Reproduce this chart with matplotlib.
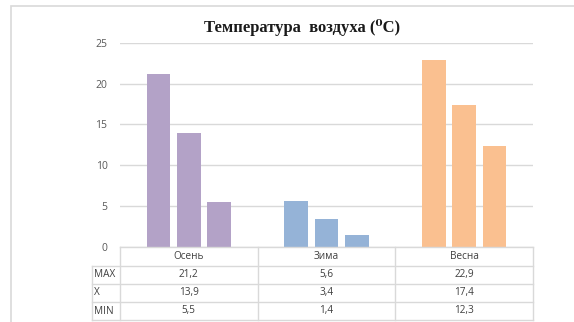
import matplotlib
matplotlib.use("Agg")
import matplotlib.pyplot as plt
from matplotlib.lines import Line2D
from matplotlib.patches import Rectangle
from matplotlib.transforms import blended_transform_factory

# Data
seasons = ["Осень", "Зима", "Весна"]
row_labels = ["MAX", "X", "MIN"]
t_max = [21.2, 5.6, 22.9]
t_mean = [13.9, 3.4, 17.4]
t_min = [5.5, 1.4, 12.3]
season_colors = ["#B3A2C7", "#95B3D7", "#FAC090"]
y_ticks = [0, 5, 10, 15, 20, 25]
title = "Температура  воздуха (⁰C)"

W, H = 574, 322
fig = plt.figure(figsize=(W / 100, H / 100), dpi=100)
fig.patch.set_facecolor("white")

def fx(px):
    return px / W

def fy(py):
    return 1 - py / H

# plot area
left, right, top, bottom = 120, 533, 42.7, 246.7
ax = fig.add_axes([fx(left), fy(bottom), fx(right) - fx(left), (bottom - top) / H])
ax.set_xlim(-0.5, 2.5)
ax.set_ylim(0, 25)
for s in ax.spines.values():
    s.set_visible(False)
ax.set_yticks(y_ticks)
ax.set_yticklabels([str(v) for v in y_ticks], fontsize=7.5, color="#595959",
                   family=["Open Sans", "DejaVu Sans"])
ax.tick_params(axis="y", length=0, pad=9)
ax.set_xticks([])
ax.grid(axis="y", color="#D9D9D9", linewidth=1)
ax.set_axisbelow(True)

bar_w = 0.171
step = 0.22
series = [t_max, t_mean, t_min]
for i, vals in enumerate(series):
    off = (i - 1) * step
    for j, v in enumerate(vals):
        ax.bar(j + off, v, width=bar_w, color=season_colors[j], zorder=3)

# data table under the axis
font = ["Open Sans", "DejaVu Sans"]
tcol = "#404040"
line_col = "#D9D9D9"
row_y = [247.3, 265.5, 283.7, 301.9, 320.1]
label_left = 92

def hline(x0, x1, y):
    fig.add_artist(Line2D([fx(x0), fx(x1)], [fy(y), fy(y)], color=line_col, lw=1))

def vline(x, y0, y1):
    fig.add_artist(Line2D([fx(x), fx(x)], [fy(y0), fy(y1)], color=line_col, lw=1))

hline(left, right, row_y[0])
for y in row_y[1:]:
    hline(label_left, right, y)
vline(label_left, row_y[1], row_y[-1])
col_edges = [left + k * (right - left) / 3 for k in range(4)]
for x in col_edges:
    vline(x, row_y[0], row_y[-1])

tr = blended_transform_factory(ax.transData, fig.transFigure)
for j, name in enumerate(seasons):
    ax.text(j, fy((row_y[0] + row_y[1]) / 2), name, transform=tr, ha="center",
            va="center", fontsize=7.2, color=tcol, family=font, clip_on=False)
for r, (lab, vals) in enumerate(zip(row_labels, series)):
    yc = fy((row_y[r + 1] + row_y[r + 2]) / 2)
    fig.text(fx(label_left + 2), yc, lab, ha="left", va="center", fontsize=7.2,
             color=tcol, family=font)
    for j, v in enumerate(vals):
        ax.text(j, yc, f"{v:.1f}".replace(".", ","), transform=tr, ha="center",
                va="center", fontsize=7.2, color=tcol, family=font, clip_on=False)

# title
fig.text(fx(302), fy(28), title, ha="center", va="center", fontsize=12,
         fontweight="bold", color="#1a1a1a",
         family=["Liberation Serif", "DejaVu Serif"])

# outer frame
fig.add_artist(Rectangle((fx(11), fy(340)), 1, fy(6) - fy(340),
                         transform=fig.transFigure, fill=False,
                         edgecolor="#D9D9D9", lw=1.2))

fig.savefig("out.png", dpi=100)
